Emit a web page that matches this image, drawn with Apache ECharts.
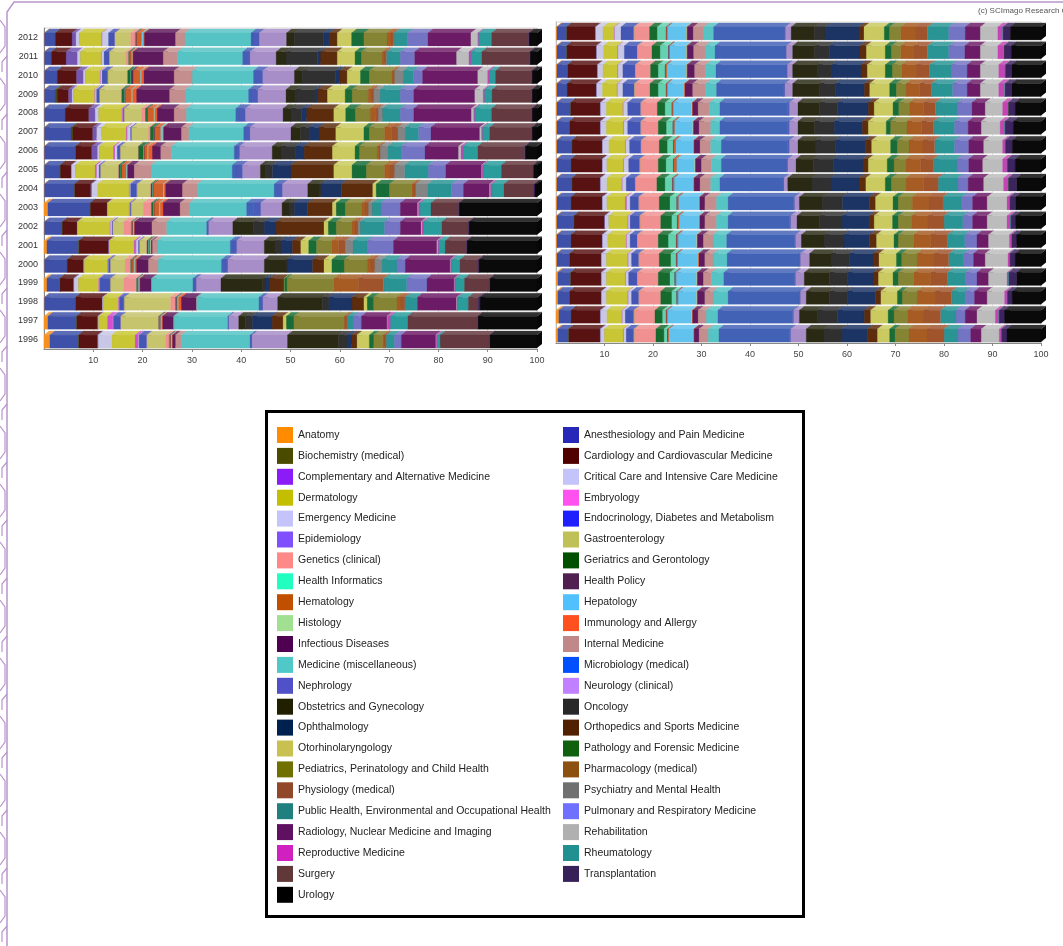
<!DOCTYPE html>
<html>
<head>
<meta charset="utf-8">
<title>Subject areas 1996-2012</title>
<script src="https://cdn.jsdelivr.net/npm/echarts@6/dist/echarts.min.js"></script>
<style>
  html, body { margin: 0; padding: 0; background: #fff; }
  #chart { width: 1063px; height: 946px; }
</style>
</head>
<body>
<div id="chart"></div>
<script>
var FONT = '"Liberation Sans", Arial, sans-serif';

var years = ['1996','1997','1998','1999','2000','2001','2002','2003','2004','2005','2006','2007','2008','2009','2010','2011','2012'];

var categories = [
  'Anatomy', 'Anesthesiology and Pain Medicine',
  'Biochemistry (medical)', 'Cardiology and Cardiovascular Medicine',
  'Complementary and Alternative Medicine', 'Critical Care and Intensive Care Medicine',
  'Dermatology', 'Embryology',
  'Emergency Medicine', 'Endocrinology, Diabetes and Metabolism',
  'Epidemiology', 'Gastroenterology',
  'Genetics (clinical)', 'Geriatrics and Gerontology',
  'Health Informatics', 'Health Policy',
  'Hematology', 'Hepatology',
  'Histology', 'Immunology and Allergy',
  'Infectious Diseases', 'Internal Medicine',
  'Medicine (miscellaneous)', 'Microbiology (medical)',
  'Nephrology', 'Neurology (clinical)',
  'Obstetrics and Gynecology', 'Oncology',
  'Ophthalmology', 'Orthopedics and Sports Medicine',
  'Otorhinolaryngology', 'Pathology and Forensic Medicine',
  'Pediatrics, Perinatology and Child Health', 'Pharmacology (medical)',
  'Physiology (medical)', 'Psychiatry and Mental Health',
  'Public Health, Environmental and Occupational Health', 'Pulmonary and Respiratory Medicine',
  'Radiology, Nuclear Medicine and Imaging', 'Rehabilitation',
  'Reproductive Medicine', 'Rheumatology',
  'Surgery', 'Transplantation',
  'Urology'
];

// swatch colours of the legend
var legendColors = [
  '#ff8c00','#2828b8','#4b4b00','#500000','#8b1cf8','#c4c4fa','#c4be00','#ff50f0',
  '#c4c4fa','#2020ff','#8050ff','#c0c058','#ff8888','#005000','#20ffc0','#502050',
  '#c05000','#50c0ff','#a0e090','#ff5020','#500050','#c08888','#50c8c8','#0050ff',
  '#5050c8','#c080ff','#202000','#282828','#002050','#502000','#c8c050','#106010',
  '#707000','#8c5010','#904828','#707070','#208080','#7070ff','#601060','#b0b0b0',
  '#d020c0','#209090','#603838','#382058','#000000'
];

// colours as they come out on the shaded bars
var barColors = [
  '#f59020','#3e50a8','#4a4a18','#581212','#7456b0','#c8c8e6','#c8c634','#d050d0',
  '#c8c8e6','#4456b4','#7862c8','#c6c46c','#f09090','#166a2e','#64d2b0','#54245a',
  '#d0602a','#62c2ee','#a6d8a0','#f05a28','#5e1a5c','#c48e8e','#56c4c4','#4262b6',
  '#4a5cb8','#a88ec8','#2a2a14','#303030','#1c3464','#5c2c0c','#caca60','#186c38',
  '#848434','#a65c22','#a0542c','#848484','#2a9494','#7474c4','#6c1c66','#bcbcbc',
  '#c444b4','#2a9c9c','#64393f','#3c2460','#0a0a0a'
];

// share (%) of each category, one row per year, same order as years / categories
var leftShares = [
  [1.2,5.8,0.1,3.8,0.1,2.8,4.7,0.7,0.1,1.5,0.1,3.8,0.7,0.1,0.1,0.1,0.1,0.1,0.1,0.1,0.6,1.2,13.9,0.2,0.2,7.2,10.4,1.7,0.9,1.1,2.5,0.9,1.8,0.4,0.3,0.1,1.6,1.4,7.0,0.1,0.3,0.5,10.0,0.1,9.5], // 1996
  [0.8,5.8,0.1,4.2,0.1,0.1,1.8,1.1,0.1,1.4,0.1,7.6,0.1,0.1,0.1,0.1,0.1,0.1,0.1,0.2,2.2,0.1,10.9,0.1,0.1,2.0,1.4,1.4,4.0,2.2,0.7,1.5,10.2,0.3,0.3,0.1,1.1,1.7,5.2,0.1,0.6,3.5,14.2,0.1,11.9], // 1997
  [0.1,6.3,0.1,5.3,0.1,0.1,3.1,0.1,0.1,0.9,0.1,9.4,1.0,0.1,0.1,0.1,0.1,0.1,0.1,0.6,3.0,0.1,12.6,0.4,0.4,3.0,9.1,1.3,4.7,2.4,0.7,1.3,4.7,0.8,0.8,0.1,2.4,0.1,7.9,0.1,0.1,2.2,2.0,0.4,11.5], // 1998
  [0.6,2.6,0.1,2.7,0.1,0.9,4.1,0.1,0.1,2.1,0.1,2.7,2.6,0.1,0.1,0.1,0.1,0.1,0.1,0.1,2.3,0.1,8.3,0.3,0.4,5.0,8.5,0.6,0.7,3.0,0.1,0.5,9.5,5.0,5.1,0.1,4.6,4.1,5.5,0.1,0.1,1.9,5.1,0.1,9.5], // 1999
  [0.1,4.6,0.1,3.2,0.1,0.1,4.7,0.1,0.1,0.3,0.1,3.0,1.1,0.1,0.1,0.1,0.4,0.1,0.1,0.3,2.4,2.0,12.8,0.5,0.8,7.4,4.4,0.4,5.0,2.3,1.6,2.5,4.7,0.8,0.7,1.5,3.0,1.7,9.1,0.1,0.2,1.7,3.7,0.2,11.7], // 2000
  [0.6,6.4,0.2,5.9,0.1,0.1,5.0,0.4,0.5,0.1,0.1,1.4,0.1,0.3,0.1,0.1,0.1,0.1,0.1,0.1,0.2,1.0,14.8,0.6,0.7,5.6,2.2,1.2,2.3,1.7,1.6,1.6,3.1,1.4,1.4,1.5,2.9,5.3,8.8,0.2,0.2,1.3,4.3,0.2,14.1], // 2001
  [0.1,3.6,0.1,2.9,0.1,0.1,6.5,0.1,0.3,0.1,0.1,2.2,1.5,0.1,0.1,0.1,0.1,0.1,0.1,0.1,3.5,3.0,8.1,0.2,0.2,4.9,4.2,2.2,2.4,9.7,0.9,1.6,3.1,0.7,0.6,0.5,4.9,3.2,4.2,0.2,0.3,3.7,5.4,0.2,13.7], // 2002
  [0.8,8.6,0.1,3.3,0.1,0.1,4.3,0.1,0.1,0.1,0.1,2.5,1.6,0.4,0.1,0.1,1.0,0.1,0.1,0.6,3.4,2.0,11.5,1.4,1.5,4.3,1.4,1.1,2.7,5.0,0.8,1.8,3.4,0.7,0.6,0.8,1.8,3.9,3.5,0.2,0.3,2.2,5.6,0.2,15.7], // 2003
  [0.1,6.1,0.1,3.2,0.2,1.2,6.4,0.1,0.2,1.2,0.1,2.7,0.1,0.3,0.1,0.1,2.0,0.1,0.1,0.3,3.4,3.0,15.6,0.5,1.2,5.1,2.3,0.5,4.1,6.3,0.7,2.7,4.5,0.4,0.4,2.5,4.8,2.4,5.3,0.2,0.3,2.4,6.1,0.2,0.4], // 2004
  [0.1,3.2,0.1,2.1,0.1,0.8,4.0,0.3,0.5,0.2,0.1,3.6,0.1,0.4,0.1,0.1,0.9,0.1,0.1,0.1,1.3,3.5,16.4,0.8,1.3,3.6,1.0,1.5,3.7,8.7,3.7,2.9,3.7,1.1,0.9,2.1,4.8,3.5,7.3,0.1,0.2,3.7,6.4,0.2,0.6], // 2005
  [0.1,6.3,0.1,3.2,1.2,0.3,2.9,0.3,0.5,0.5,0.1,3.6,0.1,1.0,0.1,0.1,0.6,0.1,0.1,0.8,1.7,2.2,12.7,0.4,0.7,6.6,1.8,3.0,1.7,5.7,4.6,0.9,3.6,0.4,0.2,1.6,2.7,4.8,6.8,0.5,0.4,3.0,9.5,0.2,2.3], // 2006
  [0.1,5.4,0.4,4.0,0.8,1.0,5.0,0.2,0.7,0.1,0.1,3.4,0.4,0.7,0.1,0.1,1.2,0.4,0.1,0.1,3.6,1.5,11.1,0.4,0.9,8.3,2.0,1.7,2.0,3.4,5.7,1.1,3.1,1.4,1.3,1.5,2.7,2.5,9.9,0.4,0.2,1.4,8.5,0.2,0.9], // 2007
  [0.1,4.2,0.1,4.7,1.3,0.7,4.7,0.2,0.1,0.1,0.1,3.5,0.8,0.3,0.1,0.1,1.2,0.1,0.1,0.5,3.4,2.5,10.0,0.6,1.4,7.6,1.6,2.2,1.0,5.5,2.4,2.0,3.0,1.1,0.5,0.9,3.6,2.7,11.7,0.5,0.2,3.4,8.1,0.2,0.9], // 2008
  [0.1,2.2,0.5,2.2,0.7,0.3,4.3,0.1,0.3,0.5,0.1,4.3,0.2,0.5,0.1,0.1,1.3,0.1,0.1,0.8,6.7,3.3,12.7,0.5,1.4,5.7,2.0,3.9,0.5,2.0,3.6,1.4,3.3,0.7,0.4,1.3,4.1,2.7,12.4,1.7,0.3,1.5,8.0,0.2,0.9], // 2009
  [0.1,2.6,0.1,3.8,1.4,0.4,3.0,0.1,0.3,1.1,0.1,3.9,0.1,0.6,0.1,0.4,1.5,0.1,0.1,0.5,6.1,3.7,12.4,0.5,1.4,6.4,1.6,6.8,0.8,1.5,2.7,1.8,4.6,0.3,0.2,1.8,2.1,1.8,11.2,2.0,0.4,1.2,7.3,0.2,0.9], // 2010
  [0.1,1.4,0.1,2.9,2.3,0.6,4.2,0.1,0.5,1.0,0.1,3.4,0.5,0.1,0.1,0.1,0.3,0.1,0.1,0.1,6.1,2.9,13.2,0.4,1.1,5.3,2.0,6.4,0.6,3.4,3.6,1.3,4.2,0.5,0.3,0.2,2.7,2.9,8.5,2.5,0.4,2.2,9.7,0.2,1.3], // 2011
  [0.1,2.2,0.1,3.3,0.8,0.7,4.5,0.1,1.3,1.2,0.1,3.2,0.9,0.1,0.1,0.1,1.0,0.3,0.1,0.2,6.3,1.9,13.4,0.4,1.3,5.5,1.6,5.9,1.3,1.5,2.9,2.5,4.7,0.8,0.5,0.2,2.7,4.1,8.7,1.4,0.2,2.6,7.5,0.2,1.5]  // 2012
];

var rightShares = [
  [0.4,2.2,0.1,6.4,0.1,0.8,3.9,0.1,0.5,1.5,0.1,0.1,4.4,1.7,0.7,0.1,0.2,5.0,0.1,0.1,1.0,1.9,2.2,14.6,0.2,3.2,3.7,3.7,5.2,2.1,2.5,1.1,2.9,3.7,3.5,0.1,2.8,2.6,2.2,3.7,0.4,0.1,0.1,1.0,7.0], // 1996
  [0.6,2.5,0.1,5.9,0.1,1.3,3.1,0.1,0.6,1.7,0.1,0.1,4.2,1.6,0.7,0.1,0.2,5.0,0.1,0.1,1.1,1.7,2.4,15.4,0.2,1.2,3.8,4.1,5.5,1.3,3.6,1.2,2.8,3.4,3.4,0.1,3.1,1.9,2.4,3.8,0.7,0.1,0.1,1.0,7.5], // 1997
  [0.4,2.4,0.1,6.4,0.1,1.0,4.4,0.1,0.7,1.4,0.1,0.1,4.4,2.3,1.0,0.1,0.2,3.8,0.1,0.1,1.5,1.7,3.1,14.7,0.2,1.2,4.8,3.7,5.8,1.1,3.4,1.0,3.1,3.7,3.4,0.1,2.7,1.9,2.6,3.6,0.5,0.1,0.1,0.9,5.9], // 1998
  [0.4,2.6,0.1,6.2,0.1,1.0,3.9,0.1,0.6,1.7,0.1,0.1,4.2,2.4,1.0,0.1,0.2,4.2,0.1,0.1,1.2,1.7,2.5,14.6,0.2,1.8,5.2,3.7,5.3,1.1,3.0,1.1,3.2,3.5,3.4,0.1,3.6,2.4,2.4,3.8,0.3,0.1,0.1,1.5,5.0], // 1999
  [0.2,2.6,0.1,6.4,0.1,1.0,4.4,0.1,0.7,1.4,0.1,0.1,4.1,2.4,1.1,0.1,0.2,4.2,0.1,0.1,1.2,1.7,2.9,14.9,0.2,1.9,4.4,3.8,4.9,1.2,3.6,1.1,3.2,3.5,3.0,0.1,3.0,2.0,2.4,4.7,0.3,0.1,0.1,1.0,5.3], // 2000
  [0.2,2.9,0.1,6.3,0.1,1.1,3.8,0.1,0.7,1.4,0.1,0.1,4.2,2.1,1.6,0.1,0.3,3.8,0.1,0.1,1.2,2.0,2.8,14.0,0.2,1.2,4.7,4.1,5.3,1.4,3.6,0.9,3.2,3.5,3.4,0.1,3.5,2.5,2.4,4.3,0.4,0.1,0.1,0.9,5.0], // 2001
  [0.2,3.5,0.1,6.2,0.1,0.8,3.9,0.1,0.4,1.9,0.1,0.1,4.2,2.3,1.1,0.1,0.3,4.1,0.1,0.1,1.0,2.4,2.4,12.7,0.2,1.3,4.7,4.6,5.6,1.0,3.8,1.2,2.7,3.4,3.3,0.1,3.8,2.0,3.0,4.1,0.7,0.1,0.1,0.9,5.2], // 2002
  [0.2,2.9,0.1,6.3,0.1,0.9,3.8,0.3,0.7,1.7,0.1,0.1,4.1,2.2,1.4,0.1,0.3,4.2,0.1,0.1,1.0,2.4,2.4,13.5,0.2,1.0,4.7,4.2,5.6,1.2,3.6,1.1,2.9,3.4,2.9,0.1,3.8,2.2,3.0,4.1,0.5,0.1,0.1,1.1,5.2], // 2003
  [0.2,3.1,0.1,5.7,0.1,1.3,3.1,0.1,0.8,1.8,0.1,0.1,4.3,1.7,1.5,0.1,0.3,3.9,0.1,0.1,1.2,2.2,1.9,13.0,0.2,0.8,5.0,3.9,5.8,1.4,4.0,1.3,3.0,3.6,3.0,0.1,4.0,2.1,3.2,4.1,0.9,0.1,0.1,1.6,5.0], // 2004
  [0.2,2.9,0.1,6.3,0.1,0.9,3.4,0.1,1.0,2.2,0.1,0.1,3.7,1.6,1.5,0.1,0.6,3.7,0.1,0.1,1.2,2.1,2.0,13.4,0.3,1.7,3.6,4.1,6.1,1.1,3.9,1.4,2.5,3.0,2.7,0.1,4.7,2.4,2.9,4.1,0.9,0.1,0.1,1.5,5.3], // 2005
  [0.2,3.1,0.1,6.1,0.1,1.3,3.4,0.1,0.8,2.3,0.1,0.1,3.6,1.7,1.2,0.1,0.4,3.6,0.1,0.1,1.2,2.2,2.2,13.7,0.3,1.8,3.7,4.0,6.2,1.3,3.9,1.4,2.4,2.9,2.4,0.1,4.0,2.9,3.1,3.9,0.5,0.1,0.1,1.3,5.9], // 2006
  [0.2,2.6,0.1,6.2,0.1,1.2,3.5,0.1,0.8,2.6,0.1,0.1,3.5,1.7,1.3,0.1,0.3,3.7,0.1,0.1,1.1,2.4,1.9,14.0,0.3,1.8,3.4,4.1,5.8,1.2,3.7,0.9,3.4,3.0,2.5,0.1,4.2,2.8,2.7,3.9,0.9,0.1,0.1,1.6,5.7], // 2007
  [0.2,2.8,0.1,6.0,0.1,1.2,3.4,0.1,0.9,2.6,0.1,0.1,3.3,1.6,1.4,0.1,0.2,3.8,0.1,0.1,1.1,2.4,2.1,14.0,0.3,1.8,4.5,3.7,6.3,1.2,3.9,1.2,2.2,2.9,2.5,0.1,4.3,3.1,2.7,3.6,1.1,0.1,0.1,1.3,5.3], // 2008
  [0.2,2.1,0.1,5.9,0.1,1.2,3.0,0.1,1.1,2.3,0.1,0.1,3.1,1.7,1.6,0.1,0.2,3.4,0.1,0.1,1.6,2.7,2.2,13.8,0.3,1.6,5.5,3.3,6.0,1.1,4.1,1.4,2.0,2.8,2.4,0.1,4.3,3.0,2.7,3.8,1.2,0.1,0.1,1.3,6.0], // 2009
  [0.2,2.2,0.1,6.0,0.1,1.1,3.0,0.1,1.0,2.5,0.1,0.1,3.0,1.6,1.4,0.1,0.3,4.0,0.1,0.1,1.5,2.3,2.1,14.5,0.2,1.1,5.2,2.9,6.0,1.3,3.7,1.5,1.9,3.0,2.7,0.1,4.4,3.3,2.7,3.8,1.3,0.1,0.1,1.2,6.0], // 2010
  [0.2,2.0,0.1,6.0,0.1,1.4,2.9,0.1,1.3,2.6,0.1,0.1,2.9,1.7,1.7,0.1,0.2,3.4,0.1,0.1,1.3,2.4,2.0,14.5,0.2,1.3,4.5,3.1,6.3,1.3,3.9,1.3,1.9,2.7,2.8,0.1,4.3,3.3,3.2,3.6,1.2,0.1,0.1,1.4,6.1], // 2011
  [0.2,2.0,0.1,5.8,0.1,1.5,2.3,0.1,1.3,2.6,0.1,0.1,3.1,1.6,1.8,0.1,0.2,3.9,0.1,0.1,1.2,2.2,2.0,14.6,0.2,1.2,4.8,2.2,7.0,1.0,4.2,1.1,2.3,3.0,2.5,0.1,4.3,3.4,3.1,3.6,1.0,0.1,0.1,1.4,6.3]  // 2012
];

var xTicks = [0, 10, 20, 30, 40, 50, 60, 70, 80, 90, 100];

var DX = 5, DY = 4;

var shade = function(hex, f){
  var n = parseInt(hex.slice(1), 16);
  var c = [n >> 16, (n >> 8) & 255, n & 255].map(function(v){
    return Math.round(f > 0 ? v + (255 - v) * f : v * (1 + f));
  });
  return 'rgb(' + c.join(',') + ')';
};

// front face + lighter top + darker right side, like the old 3d bars
function makeRender(color){
  var topColor = shade(color, 0.16);
  var sideColor = shade(color, -0.3);
  return function(params, api){
    var a = api.coord([api.value(0), api.value(2)]);
    var b = api.coord([api.value(1), api.value(2)]);
    if (b[0] - a[0] <= 0) return;
    var y0 = a[1] - 4.5, y1 = a[1] + 8.5;
    return {
      type: 'group',
      children: [
        {type: 'polygon', shape: {points: [[b[0], y0], [b[0] + DX, y0 - DY], [b[0] + DX, y1 - DY], [b[0], y1]]},
          style: {fill: sideColor}},
        {type: 'polygon', shape: {points: [[a[0], y0], [a[0] + DX, y0 - DY], [b[0] + DX, y0 - DY], [b[0], y0]]},
          style: {fill: topColor, stroke: topColor, lineWidth: 0.3}},
        {type: 'rect', shape: {x: a[0], y: y0, width: b[0] - a[0], height: y1 - y0},
          style: {fill: color, stroke: color, lineWidth: 0.3}}
      ]
    };
  };
}

function buildSeries(rows, idx){
  var out = [];
  var starts = rows.map(function(){ return 0; });
  for (var c = 0; c < categories.length; c++) {
    var data = [];
    for (var i = 0; i < rows.length; i++) {
      var v = rows[i][c];
      data.push([starts[i], starts[i] + v, i]);
      starts[i] += v;
    }
    out.push({
      type: 'custom',
      name: categories[c],
      xAxisIndex: idx,
      yAxisIndex: idx,
      dimensions: ['from', 'to', 'year'],
      encode: {x: [0, 1], y: 2},
      data: data,
      itemStyle: {color: barColors[c]},
      renderItem: makeRender(barColors[c]),
      silent: true
    });
  }
  return out;
}

function xAxisOf(idx){
  return {
    gridIndex: idx, type: 'value', min: xTicks[0], max: xTicks[xTicks.length - 1], interval: 10,
    axisLabel: {showMinLabel: false, fontSize: 9, color: '#444', fontFamily: FONT, margin: 7},
    axisLine: {show: true, lineStyle: {color: '#888'}},
    axisTick: {show: true, length: 3, lineStyle: {color: '#888'}},
    splitLine: {show: true, lineStyle: {color: '#e4e4e4'}}
  };
}

function legendOf(left, even){
  var data = [];
  for (var c = even ? 0 : 1; c < categories.length; c += 2) {
    data.push({name: categories[c], itemStyle: {color: legendColors[c]}});
  }
  return {
    orient: 'vertical', left: left, top: 427, padding: 0,
    itemWidth: 16, itemHeight: 16, itemGap: 4.9, icon: 'rect',
    selectedMode: false,
    textStyle: {fontFamily: FONT, fontSize: 10.5, color: '#222'},
    data: data
  };
}

// purple frame down the left edge
var BORDER = '#b995cc';
var frame = [
  {type: 'polyline', shape: {points: [[7, 946], [7, 12], [14, 2], [1063, 2]]}, style: {stroke: BORDER, lineWidth: 1.5, fill: null}}
];
for (var k = 0; k < 16; k++) {
  var y = 20 + k * 58;
  frame.push({type: 'polyline', shape: {points: [[0, y], [5, y + 7], [5, y + 26], [0, y + 33]]},
    style: {stroke: BORDER, lineWidth: 1.2, fill: null}});
  frame.push({type: 'polyline', shape: {points: [[7, y + 36], [2, y + 42], [2, y + 52]]},
    style: {stroke: BORDER, lineWidth: 1.2, fill: null}});
}

var chart = echarts.init(document.getElementById('chart'));
chart.setOption({
  animation: false,
  backgroundColor: '#fff',
  grid: [
    {left: 44, top: 28, width: 493, height: 321, show: true, borderColor: '#d6d6d6', borderWidth: 1},
    {left: 556, top: 22, width: 485, height: 321, show: true, borderColor: '#d6d6d6', borderWidth: 1}
  ],
  xAxis: [xAxisOf(0), xAxisOf(1)],
  yAxis: [
    {gridIndex: 0, type: 'category', data: years,
      axisLabel: {fontSize: 9, color: '#333', fontFamily: FONT, margin: 6, padding: [4, 0, 0, 0]},
      axisTick: {alignWithLabel: true, length: 4, lineStyle: {color: '#666'}},
      axisLine: {show: true, lineStyle: {color: '#888'}}},
    {gridIndex: 1, type: 'category', data: years,
      axisLabel: {show: false}, axisTick: {show: false},
      axisLine: {show: true, lineStyle: {color: '#bbb'}}}
  ],
  legend: [legendOf(277, true), legendOf(563, false)],
  graphic: frame.concat([
    {type: 'rect', left: 265, top: 410, z: -1,
      shape: {width: 537, height: 505}, style: {fill: '#fff', stroke: '#000', lineWidth: 3}},
    {type: 'text', left: 978, top: 7,
      style: {text: '(c) SCImago Research Group', fontSize: 8, fill: '#555', fontFamily: FONT}}
  ]),
  series: buildSeries(leftShares, 0).concat(buildSeries(rightShares, 1))
});
</script>
</body>
</html>
